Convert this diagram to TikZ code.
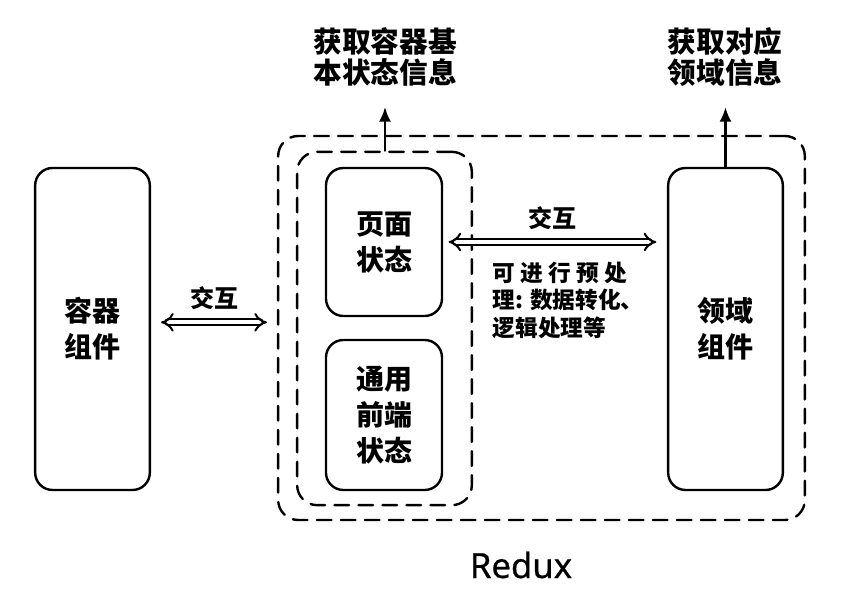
\documentclass[tikz,border=0pt]{standalone}
\usepackage{fontspec}
\setmainfont{Noto Sans CJK SC}
\newfontfamily\latinfont{Noto Sans}[FakeBold=0.6]
\usetikzlibrary{arrows.meta}

\tikzset{
  box/.style={draw, line width=1.8pt, rounded corners=13pt, align=center,
    font=\fontsize{21}{27}\selectfont\bfseries},
  dashbox/.style={draw, line width=1.8pt, rounded corners=15pt,
    dash pattern=on 11pt off 7pt},
  dblarrow/.style={double, double distance=3.2pt, line width=1.5pt,
    {Implies[length=7pt]}-{Implies[length=7pt]}},
  uparrow/.style={line width=2pt, -{Latex[length=11pt,width=9pt]}},
  lbl/.style={font=\fontsize{18}{22}\selectfont\bfseries},
  toplbl/.style={align=center, font=\fontsize{21.5}{23}\selectfont\bfseries}
}

\begin{document}
\begin{tikzpicture}[line cap=round,line join=round,x=0.75pt,y=-0.75pt]
\useasboundingbox (0,0) rectangle (843,609);

\node[dashbox, minimum width=395pt, minimum height=288pt] (redux) at (541.5,328) {};
\node[dashbox, minimum width=131pt, minimum height=265pt] (inner) at (384.5,328.5) {};

\node[box, minimum width=86pt, minimum height=241.5pt] (container) at (92.5,329) {容器\\组件};
\node[box, minimum width=87pt, minimum height=111pt] (page) at (384,242) {页面\\状态};
\node[box, minimum width=87pt, minimum height=112.5pt] (common) at (384,415) {通用\\前端\\状态};
\node[box, minimum width=86pt, minimum height=241.5pt] (domain) at (725.5,329) {领域\\组件};

\node[toplbl] (baseinfo) at (385,57) {获取容器基\\本状态信息};
\node[toplbl] (domaininfo) at (725,57) {获取对应\\领域信息};

\draw[dblarrow] ([xshift=7.5pt,yshift=5pt]container.east) -- ([xshift=-7.5pt,yshift=5pt]container.east -| redux.west)
  node[lbl, midway, above=5pt] (leftlbl) {交互};
\draw[dblarrow] ([xshift=4pt]page.east) -- ([xshift=-8pt]page.east -| domain.west)
  node[lbl, midway, above=5pt] (midlbl) {交互};
\node[anchor=north west, align=left, font=\fontsize{17}{20.6}\selectfont\bfseries] (note) at (488,257)
  {可 进 行 预 处\\理: 数据转化、\\逻辑处理等};

\draw[uparrow] (inner.north -| baseinfo.south) -- ([yshift=-12pt]baseinfo.south);
\draw[uparrow] (domain.north) -- ([yshift=-12pt]domain.north |- domaininfo.south);

\node[font=\latinfont\fontsize{26}{30}\selectfont] (reduxlbl) at (521,565) {Redux};
\end{tikzpicture}
\end{document}
